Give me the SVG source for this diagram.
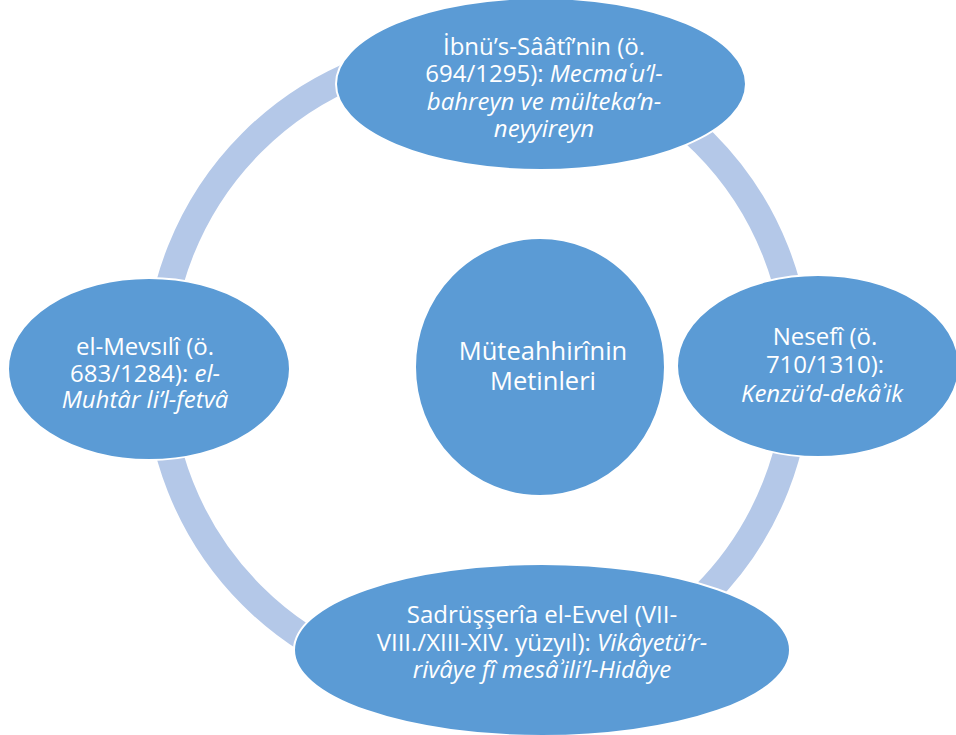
<svg xmlns="http://www.w3.org/2000/svg" width="956" height="735" viewBox="0 0 956 735">
<style>
.node{fill:#5B9BD5;stroke:#FFFFFF;stroke-width:2}
.t{font-family:"Open Sans","Noto Sans","DejaVu Sans",sans-serif;font-size:24px;fill:#FFFFFF;text-anchor:middle}
.c{font-size:25.5px}
.i{font-style:italic}
</style>
<rect width="956" height="735" fill="#FFFFFF"/>
<g id="connectors">
<circle cx="478" cy="369" r="320" fill="none" stroke="#B4C8E8" stroke-width="27"/>
</g>
<g id="center">
<ellipse class="node" cx="540" cy="367" rx="125" ry="129"/>
<text class="t c" x="543" y="360">Müteahhirînin</text>
<text class="t c" x="543" y="390">Metinleri</text>
</g>
<g id="top">
<ellipse class="node" cx="541" cy="84" rx="205" ry="86"/>
<text class="t" x="544" y="55">İbnü’s-Sââtî’nin (ö.</text>
<text class="t" x="544" y="82">694/1295): <tspan class="i">Mecmaʿu’l-</tspan></text>
<text class="t i" x="544" y="110">bahreyn ve mülteka’n-</text>
<text class="t i" x="544" y="137">neyyireyn</text>
</g>
<g id="right">
<ellipse class="node" cx="818" cy="366" rx="141" ry="91"/>
<text class="t" x="825" y="345">Nesefî (ö.</text>
<text class="t" x="825" y="373">710/1310):</text>
<text class="t i" x="822" y="402">Kenzü’d-dekâʾik</text>
</g>
<g id="bottom">
<ellipse class="node" cx="542" cy="650" rx="248" ry="86"/>
<text class="t" x="542" y="623">Sadrüşşerîa el-Evvel (VII-</text>
<text class="t" x="542" y="651">VIII./XIII-XIV. yüzyıl): <tspan class="i">Vikâyetü’r-</tspan></text>
<text class="t i" x="542" y="678">rivâye fî mesâʾili’l-Hidâye</text>
</g>
<g id="left">
<ellipse class="node" cx="149" cy="369" rx="141" ry="91"/>
<text class="t" x="145" y="355">el-Mevsılî (ö.</text>
<text class="t" x="145" y="382">683/1284): <tspan class="i">el-</tspan></text>
<text class="t i" x="145" y="408">Muhtâr li’l-fetvâ</text>
</g>
</svg>
